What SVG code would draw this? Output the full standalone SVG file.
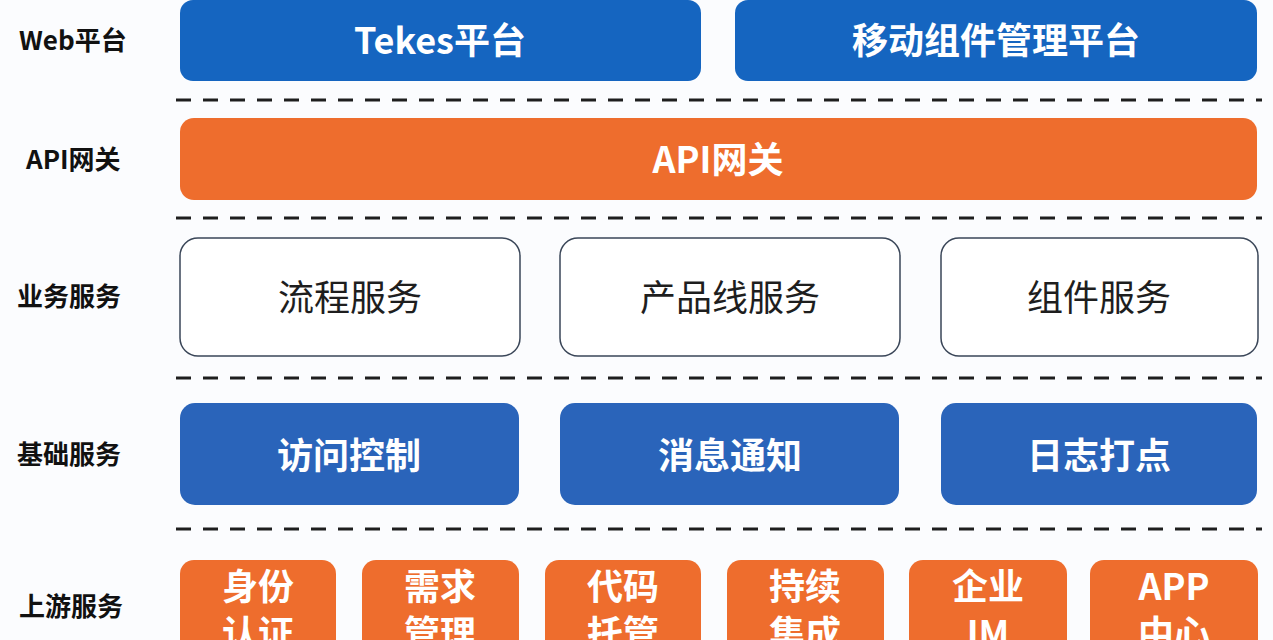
<svg xmlns="http://www.w3.org/2000/svg" width="1273" height="640" viewBox="0 0 1273 640">
<style>
.lbl{font-family:"Noto Sans CJK SC","Liberation Sans",sans-serif;font-weight:700;font-size:26px;fill:#111;dominant-baseline:central}
.t{font-family:"Noto Sans CJK SC","Liberation Sans",sans-serif;font-size:36px;text-anchor:middle;dominant-baseline:central}
.w{fill:#fff;font-weight:700}
.d{fill:#1e1e1e;font-weight:400}
.blue1{fill:#1565c0}
.blue2{fill:#2a64ba}
.orange{fill:#ee6d2d}
.white{fill:#fff;stroke:#3a4658;stroke-width:1.5}
.dash{stroke:#1e1e1e;stroke-width:3;stroke-dasharray:15 12;fill:none}
</style>
<rect width="1273" height="640" fill="#fbfcfe"/>
<g id="labels">
<text class="lbl" x="19" y="38">Web平台</text>
<text class="lbl" x="26" y="157">API网关</text>
<text class="lbl" x="17" y="294">业务服务</text>
<text class="lbl" x="17" y="452">基础服务</text>
<text class="lbl" x="19" y="604">上游服务</text>
</g>
<g id="connectors">
<line class="dash" x1="176" y1="100" x2="1262" y2="100"/>
<line class="dash" x1="176" y1="218" x2="1262" y2="218"/>
<line class="dash" x1="176" y1="378" x2="1262" y2="378"/>
<line class="dash" x1="176" y1="529" x2="1262" y2="529"/>
</g>
<g id="tekes"><rect class="blue1" x="180" y="0" width="521" height="81" rx="13"/><text class="t w" x="440" y="38">Tekes平台</text></g>
<g id="mobile"><rect class="blue1" x="735" y="0" width="522" height="81" rx="13"/><text class="t w" x="996" y="38">移动组件管理平台</text></g>
<g id="api"><rect class="orange" x="180" y="118" width="1077" height="82" rx="14"/><text class="t w" x="718" y="157">API网关</text></g>
<g id="liucheng"><rect class="white" x="180" y="238" width="340" height="118" rx="18"/><text class="t d" x="350" y="295">流程服务</text></g>
<g id="chanpinxian"><rect class="white" x="560" y="238" width="340" height="118" rx="18"/><text class="t d" x="730" y="295">产品线服务</text></g>
<g id="zujian"><rect class="white" x="941" y="238" width="317" height="118" rx="18"/><text class="t d" x="1099" y="295">组件服务</text></g>
<g id="fangwen"><rect class="blue2" x="180" y="403" width="339" height="102" rx="15"/><text class="t w" x="349" y="453">访问控制</text></g>
<g id="xiaoxi"><rect class="blue2" x="560" y="403" width="339" height="102" rx="15"/><text class="t w" x="730" y="453">消息通知</text></g>
<g id="rizhi"><rect class="blue2" x="941" y="403" width="316" height="102" rx="15"/><text class="t w" x="1099" y="453">日志打点</text></g>
<g id="shenfen"><rect class="orange" x="180" y="560" width="156" height="100" rx="14"/><text class="t w" x="258" y="584">身份</text><text class="t w" x="258" y="631">认证</text></g>
<g id="xuqiu"><rect class="orange" x="362" y="560" width="157" height="100" rx="14"/><text class="t w" x="440" y="584">需求</text><text class="t w" x="440" y="631">管理</text></g>
<g id="daima"><rect class="orange" x="545" y="560" width="156" height="100" rx="14"/><text class="t w" x="623" y="584">代码</text><text class="t w" x="623" y="631">托管</text></g>
<g id="chixu"><rect class="orange" x="727" y="560" width="157" height="100" rx="14"/><text class="t w" x="805" y="584">持续</text><text class="t w" x="805" y="631">集成</text></g>
<g id="qiye"><rect class="orange" x="909" y="560" width="158" height="100" rx="14"/><text class="t w" x="988" y="584">企业</text><text class="t w" x="988" y="631">IM</text></g>
<g id="app"><rect class="orange" x="1090" y="560" width="168" height="100" rx="14"/><text class="t w" x="1174" y="584">APP</text><text class="t w" x="1174" y="631">中心</text></g>
</svg>
